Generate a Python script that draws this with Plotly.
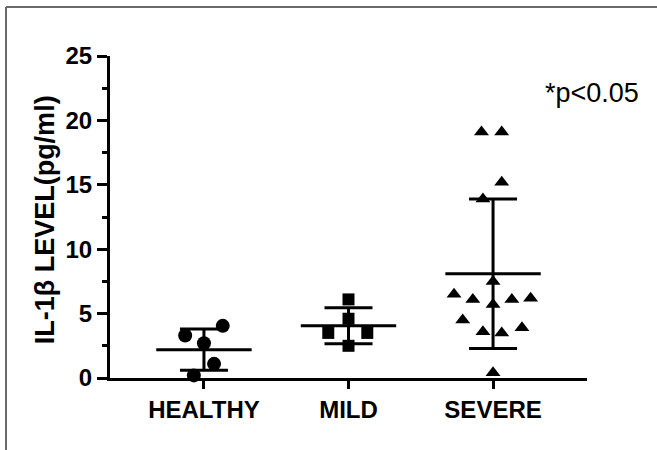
import plotly.graph_objects as go

categories = ["HEALTHY", "MILD", "SEVERE"]

healthy = [4.05, 3.3, 2.7, 1.1, 0.2]
mild = [6.1, 4.6, 3.5, 3.5, 2.5]
severe = [19.1, 19.1, 15.2, 13.9, 7.5, 6.5, 6.1, 5.7, 6.1, 6.2, 4.5, 3.6, 3.5, 3.9, 0.4]

# horizontal scatter offsets (category units)
healthy_jit = [0.13, -0.13, 0.0, 0.07, -0.07]
mild_jit = [0.0, 0.0, -0.14, 0.13, 0.0]
severe_jit = [-0.08, 0.06, 0.06, -0.07, 0.0, -0.27, -0.14, 0.0, 0.13, 0.26, -0.21, -0.07, 0.06, 0.2, 0.0]

means = [2.2, 4.05, 8.1]
sds = [1.6, 1.4, 5.8]

y_ticks = [0, 5, 10, 15, 20, 25]

FONT = "Liberation Sans, Arial, sans-serif"

fig = go.Figure()

groups = [
    (healthy, healthy_jit, "circle", 14),
    (mild, mild_jit, "square", 12),
    (severe, severe_jit, "triangle-up", 13),
]

# mean lines
for i, m in enumerate(means):
    fig.add_trace(go.Scatter(
        x=[i - 0.33, i + 0.33], y=[m, m], mode="lines",
        line=dict(color="black", width=3), showlegend=False, hoverinfo="skip"))

# SD error bars
fig.add_trace(go.Scatter(
    x=list(range(len(means))), y=means, mode="markers",
    marker=dict(size=1, color="rgba(0,0,0,0)"),
    error_y=dict(type="data", array=sds, visible=True, color="black", thickness=3, width=24),
    showlegend=False, hoverinfo="skip"))

for i, (vals, jit, sym, sz) in enumerate(groups):
    fig.add_trace(go.Scatter(
        x=[i + j for j in jit], y=vals, mode="markers",
        marker=dict(symbol=sym, size=sz, color="black", line=dict(width=0)),
        showlegend=False, cliponaxis=False))

fig.update_layout(
    width=657, height=450,
    margin=dict(l=110, r=70, t=56, b=72),
    paper_bgcolor="white", plot_bgcolor="white",
    font=dict(family=FONT, color="black"),
    xaxis=dict(
        range=[-0.65, 2.65], tickvals=[0, 1, 2], ticktext=categories,
        showline=True, linecolor="black", linewidth=3,
        ticks="outside", ticklen=8, tickwidth=3, tickcolor="black",
        showgrid=False, zeroline=False,
        tickfont=dict(family=FONT, size=24, color="black", weight="bold"),
    ),
    yaxis=dict(
        range=[0, 25], tickvals=y_ticks,
        showline=True, linecolor="black", linewidth=3,
        ticks="outside", ticklen=10, tickwidth=3, tickcolor="black",
        minor=dict(dtick=2.5, ticks="outside", ticklen=5, tickwidth=3, tickcolor="black"),
        showgrid=False, zeroline=False,
        tickfont=dict(family=FONT, size=24, color="black", weight="bold"),
    ),
    annotations=[
        dict(text="IL-1β LEVEL(pg/ml)", xref="paper", yref="paper",
             x=-0.136, y=0.49, xanchor="center", yanchor="middle", textangle=-90,
             showarrow=False, font=dict(family=FONT, size=27, color="black", weight="bold")),
        dict(text="*p<0.05", xref="paper", yref="paper",
             x=(592 - 110) / 477, y=(378 - 93) / 322, xanchor="center", yanchor="middle",
             showarrow=False, font=dict(family=FONT, size=27, color="black")),
    ],
    shapes=[
        dict(type="line", xref="paper", yref="paper", x0=-0.218, x1=-0.218, y0=-0.5, y1=1.152,
             line=dict(color="#6a6a6a", width=2)),
        dict(type="line", xref="paper", yref="paper", x0=-0.218, x1=1.3, y0=1.152, y1=1.152,
             line=dict(color="#6a6a6a", width=2)),
    ],
)

fig.write_html("out.html", config={"displayModeBar": False},
               post_script="document.body.style.margin='0';")
